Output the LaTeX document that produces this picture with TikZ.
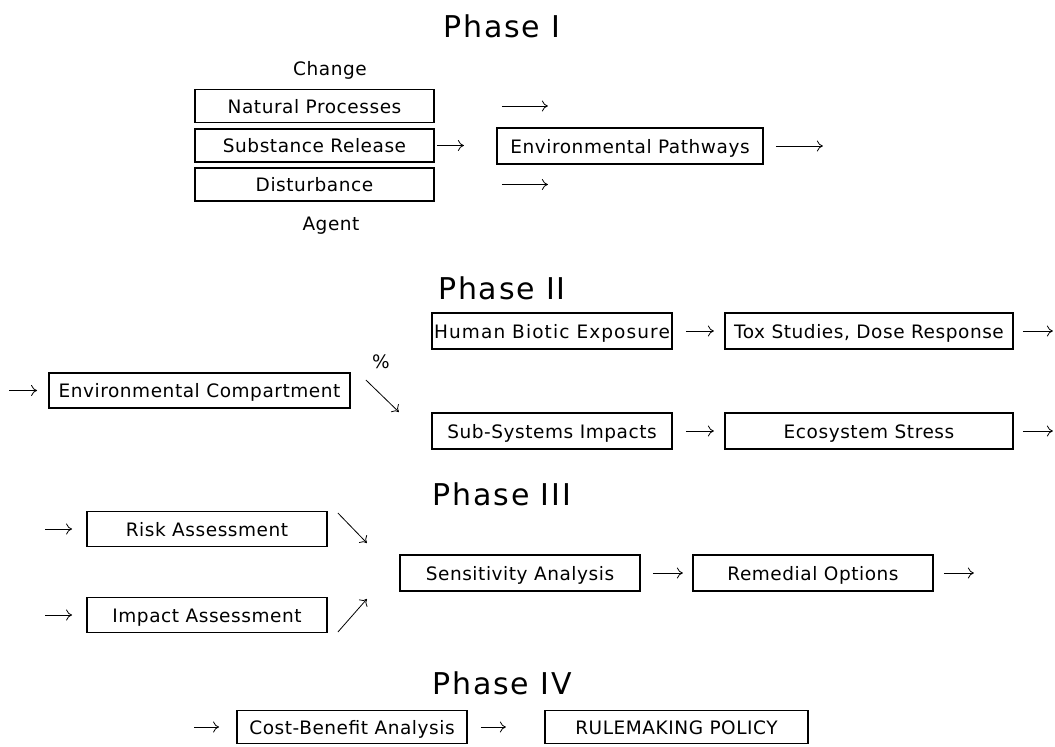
\documentclass[tikz,border=0pt]{standalone}
\usepackage{fontspec}
\newfontfamily\boxfont{DejaVu Sans}[LetterSpace=3]
\newfontfamily\widefont{DejaVu Sans}[LetterSpace=6]
\newfontfamily\titlefont{DejaVu Sans}[LetterSpace=6]
\usetikzlibrary{arrows.meta}
\begin{document}
\begin{tikzpicture}[x=1pt,y=-1pt,
  box/.style={draw, line width=1.8pt, inner sep=0pt, minimum height=34pt,
    font=\boxfont\fontsize{18.5}{22}\selectfont, text height=15pt, text depth=1pt},
  widebox/.style={box, font=\widefont\fontsize{18.5}{22}\selectfont},
  lab/.style={inner sep=0pt, font=\boxfont\fontsize{18.5}{22}\selectfont},
  title/.style={inner sep=0pt, anchor=base, font=\titlefont\fontsize{30}{34}\selectfont},
  arr/.style={line width=0.8pt, -{Computer Modern Rightarrow[length=6pt,width=11pt]}}]
\path[use as bounding box, fill=white] (0,0) rectangle (1055,747);

% ---------- Phase I ----------
\node[title] (t1) at (502,37) {Phase I};
\node[lab, anchor=base] (change) at (330,75) {Change};
\node[box, minimum width=239pt, minimum height=33pt] (np) at (314.5,106) {Natural Processes};
\node[box, minimum width=239pt, minimum height=33pt] (sr) at (314.5,145.5) {Substance Release};
\node[box, minimum width=239pt, minimum height=33pt] (dist) at (314.5,184.5) {Disturbance};
\node[lab, anchor=base] (agent) at (331,230) {Agent};
\node[box, minimum width=266pt, minimum height=36pt] (ep) at (630,146) {Environmental Pathways};
\draw[arr] ([xshift=67pt]np.east) -- ([xshift=113pt]np.east);
\draw[arr] ([xshift=2pt]sr.east) -- ([xshift=29pt]sr.east);
\draw[arr] ([xshift=67pt]dist.east) -- ([xshift=113pt]dist.east);
\draw[arr] ([xshift=12pt]ep.east) -- ([xshift=59pt]ep.east);

% ---------- Phase II ----------
\node[title] (t2) at (502,299) {Phase II};
\node[box, minimum width=301pt, minimum height=35pt] (ec) at (199.5,390.5) {Environmental Compartment};
\draw[arr] ([xshift=-39pt]ec.west) -- ([xshift=-11pt]ec.west);
\node[lab] (pct) at (381,362) {\%};
\draw[arr] ([xshift=15pt,yshift=10.5pt]ec.east) -- ([xshift=48pt,yshift=-21.5pt]ec.east);
\node[widebox, minimum width=240pt, minimum height=36pt] (hbe) at (552,331) {Human Biotic Exposure};
\node[box, minimum width=288pt, minimum height=36pt] (tox) at (869,331) {Tox Studies, Dose Response};
\node[box, minimum width=240pt, minimum height=36pt] (ssi) at (552,431) {Sub-Systems Impacts};
\node[box, minimum width=288pt, minimum height=36pt] (eco) at (869,431) {Ecosystem Stress};
\draw[arr] ([xshift=13pt]hbe.east) -- ([xshift=41pt]hbe.east);
\draw[arr] ([xshift=9pt]tox.east) -- ([xshift=39pt]tox.east);
\draw[arr] ([xshift=13pt]ssi.east) -- ([xshift=41pt]ssi.east);
\draw[arr] ([xshift=9pt]eco.east) -- ([xshift=39pt]eco.east);

% ---------- Phase III ----------
\node[title] (t3) at (502,505) {Phase III};
\node[box, minimum width=240pt, minimum height=35pt] (risk) at (207,529) {Risk Assessment};
\node[box, minimum width=240pt, minimum height=35pt] (impact) at (207,615) {Impact Assessment};
\draw[arr] ([xshift=-41pt]risk.west) -- ([xshift=-14pt]risk.west);
\draw[arr] ([xshift=-41pt]impact.west) -- ([xshift=-14pt]impact.west);
\draw[arr] ([xshift=10pt,yshift=16pt]risk.east) -- ([xshift=39pt,yshift=-14pt]risk.east);
\draw[arr] ([xshift=10pt,yshift=-17pt]impact.east) -- ([xshift=39pt,yshift=16pt]impact.east);
\node[box, minimum width=240pt, minimum height=36pt] (sens) at (520,573) {Sensitivity Analysis};
\node[box, minimum width=240pt, minimum height=36pt] (rem) at (813,573) {Remedial Options};
\draw[arr] ([xshift=12pt]sens.east) -- ([xshift=42pt]sens.east);
\draw[arr] ([xshift=10pt]rem.east) -- ([xshift=40pt]rem.east);

% ---------- Phase IV ----------
\node[title] (t4) at (502,694) {Phase IV};
\node[box, minimum width=230pt, minimum height=33pt] (cost) at (352,727) {Cost-Benefit Analysis};
\node[box, minimum width=263pt, minimum height=33pt] (rule) at (676.5,727) {RULEMAKING POLICY};
\draw[arr] ([xshift=-42pt]cost.west) -- ([xshift=-17pt]cost.west);
\draw[arr] ([xshift=13pt]cost.east) -- ([xshift=38pt]cost.east);
\end{tikzpicture}
\end{document}
